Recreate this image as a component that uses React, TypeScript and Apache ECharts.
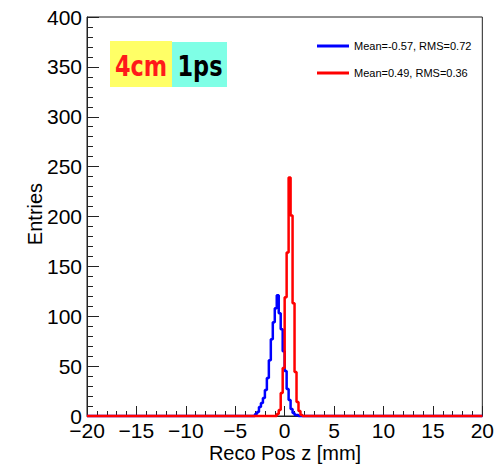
import React, { useEffect, useRef } from "react";
import * as echarts from "echarts";

// Histogram binning (mm)
const binWidth = 0.2;
const xMin = -20;
const xMax = 20;

// Blue histogram: first bin left edge and bin contents
const blueName = "Mean=-0.57, RMS=0.72";
const blueStart = -3.0;
const blueCounts = [2, 4, 9, 13, 18, 26, 38, 56, 77, 94, 108, 121, 103, 87, 65, 45, 27, 16, 7, 3, 1, 1];

// Red histogram
const redName = "Mean=0.49, RMS=0.36";
const redStart = -0.8;
const redCounts = [2, 6, 23, 48, 119, 164, 239, 201, 113, 44, 14, 5, 1];

const xTitle = "Reco Pos z [mm]";
const yTitle = "Entries";
const tagLeft = "4cm";
const tagRight = "1ps";

function buildSteps(start: number, counts: number[]): number[][] {
  const pts: number[][] = [[xMin, 0]];
  counts.forEach((c, i) => {
    pts.push([Math.round((start + i * binWidth) * 100) / 100, c]);
  });
  pts.push([Math.round((start + counts.length * binWidth) * 100) / 100, 0]);
  pts.push([xMax, 0]);
  return pts;
}

export default function App() {
  const ref = useRef<HTMLDivElement>(null);
  useEffect(() => {
    if (!ref.current) return;
    const chart = echarts.init(ref.current, null, { renderer: "svg" });
    const font = "Liberation Sans";
    const minus = (v: number) => String(v).replace("-", "\u2212");
    chart.setOption({
      animation: false,
      backgroundColor: "#fff",
      grid: {
        left: 87,
        top: 17,
        width: 397,
        height: 399,
        show: true,
        borderColor: "#222",
        borderWidth: 1,
        backgroundColor: "transparent",
      },
      xAxis: {
        type: "value",
        min: xMin,
        max: xMax,
        interval: 5,
        axisLine: { show: true, onZero: false, lineStyle: { color: "#222", width: 1 } },
        axisTick: { show: true, inside: true, length: 10, lineStyle: { color: "#222" } },
        minorTick: { show: true, splitNumber: 5, length: 5, lineStyle: { color: "#222" } },
        splitLine: { show: false },
        axisLabel: {
          formatter: minus,
          fontFamily: font,
          fontSize: 21,
          color: "#000",
          margin: 4,
          showMinLabel: true,
          showMaxLabel: true,
        },
      },
      yAxis: {
        type: "value",
        min: 0,
        max: 400,
        interval: 50,
        axisLine: { show: true, onZero: false, lineStyle: { color: "#222", width: 1 } },
        axisTick: { show: true, inside: true, length: 12, lineStyle: { color: "#222" } },
        minorTick: { show: true, splitNumber: 5, length: 6, lineStyle: { color: "#222" } },
        splitLine: { show: false },
        axisLabel: {
          fontFamily: font,
          fontSize: 21,
          color: "#000",
          margin: 5,
          showMinLabel: true,
          showMaxLabel: true,
        },
      },
      legend: {
        orient: "vertical",
        left: 317,
        top: 39,
        padding: 0,
        itemGap: 13,
        itemWidth: 32,
        itemHeight: 3,
        icon: "rect",
        textStyle: { fontFamily: font, fontSize: 11, color: "#000", lineHeight: 14 },
        data: [blueName, redName],
      },
      series: [
        {
          name: blueName,
          type: "line",
          step: "end",
          data: buildSteps(blueStart, blueCounts),
          symbol: "none",
          showSymbol: false,
          clip: false,
          color: "#0000ff",
          lineStyle: { color: "#0000ff", width: 2.5 },
        },
        {
          name: redName,
          type: "line",
          step: "end",
          data: buildSteps(redStart, redCounts),
          symbol: "none",
          showSymbol: false,
          clip: false,
          color: "#ff0000",
          lineStyle: { color: "#ff0000", width: 2.5 },
        },
      ],
      graphic: [
        {
          type: "text",
          x: 35,
          y: 214,
          rotation: Math.PI / 2,
          style: {
            text: yTitle,
            font: `20px "${font}"`,
            fill: "#000",
            align: "center",
            verticalAlign: "middle",
          },
        },
        {
          type: "text",
          x: 285,
          y: 453,
          style: {
            text: xTitle,
            font: `20px "${font}"`,
            fill: "#000",
            align: "center",
            verticalAlign: "middle",
          },
        },
        {
          type: "rect",
          shape: { x: 110, y: 41, width: 62, height: 46 },
          style: { fill: "#ffff66" },
        },
        {
          type: "rect",
          shape: { x: 172, y: 42, width: 55, height: 45 },
          style: { fill: "#7fffe6" },
        },
        {
          type: "text",
          x: 141,
          y: 66,
          scaleX: 0.8,
          style: {
            text: tagLeft,
            font: `bold 28px "DejaVu Sans"`,
            fill: "#ff1a1a",
            align: "center",
            verticalAlign: "middle",
          },
        },
        {
          type: "text",
          x: 200,
          y: 66,
          scaleX: 0.8,
          style: {
            text: tagRight,
            font: `bold 28px "DejaVu Sans"`,
            fill: "#000",
            align: "center",
            verticalAlign: "middle",
          },
        },
      ],
    });
    return () => chart.dispose();
  }, []);
  return (
    <div
      ref={ref}
      style={{ position: "fixed", left: 0, top: 0, width: 497, height: 465 }}
    />
  );
}
